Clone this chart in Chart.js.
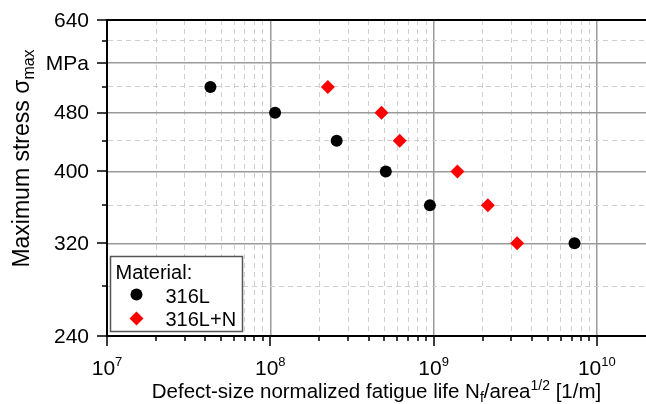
<!DOCTYPE html>
<html>
<head>
<meta charset="utf-8">
<script src="https://cdn.jsdelivr.net/npm/chart.js@4.4.0/dist/chart.umd.min.js"></script>
<style>
  html, body { margin: 0; padding: 0; background: #fff; overflow: hidden; }
  #wrap { position: relative; width: 646px; height: 404px; }
  #fatigueChart { display: block; }
</style>
</head>
<body>
<div id="wrap"><canvas id="fatigueChart"></canvas></div>
<script>
// Stress amplitude levels (MPa)
const stressLevels = [520, 480, 440, 400, 360, 320];
// Defect-size normalized fatigue life N_f / area^1/2 [1/m]
const life316L = [4.3e7, 1.07e8, 2.55e8, 5.1e8, 9.5e8, 7.3e9];
const life316LN = [2.25e8, 4.8e8, 6.2e8, 1.4e9, 2.15e9, 3.25e9];

const seriesNames = ["316L", "316L+N"];
const legendTitle = "Material:";

// Axis ranges and ticks
const xLimits = [1e7, 2e10];
const yLimits = [240, 640];
const xDecades = [1e7, 1e8, 1e9, 1e10];
const xDecadeExps = ["7", "8", "9", "10"];
const yMajorTicks = [240, 320, 400, 480, 560, 640];
const yMinorTicks = [280, 360, 440, 520, 600];
const yTickLabels = ["240", "320", "400", "480", "MPa", "640"];

const FONT = "'Liberation Sans', Arial, Helvetica, sans-serif";

// minor log ticks 2..9 inside each decade, below the axis max
function xMinorTicks() {
    const out = [];
    xDecades.forEach(function (d) {
        for (let k = 2; k <= 9; k++) {
            if (d * k < xLimits[1]) out.push(d * k);
        }
    });
    return out;
}

function toPoints(xs, ys) {
    return xs.map((x, i) => ({ x: x, y: ys[i] }));
}

// draws a run of [text, fontSize, baselineShift] pieces starting at x
function drawRuns(ctx, runs, x, y) {
    runs.forEach(function (r) {
        ctx.font = r[1] + "px " + FONT;
        ctx.fillText(r[0], x, y + r[2]);
        x += ctx.measureText(r[0]).width;
    });
}

function runsWidth(ctx, runs) {
    let w = 0;
    runs.forEach(function (r) {
        ctx.font = r[1] + "px " + FONT;
        w += ctx.measureText(r[0]).width;
    });
    return w;
}

// Frame, tick marks, tick labels, axis titles and the legend box
const decorPlugin = {
    id: "decor",
    afterDatasetsDraw(chart) {
        const ctx = chart.ctx;
        const area = chart.chartArea;
        const bx = area.left + 3.5, by = area.bottom - 79.5;
        const bw = 132, bh = 75;

        ctx.save();
        ctx.fillStyle = "#fff";
        ctx.fillRect(bx, by, bw, bh);
        ctx.strokeStyle = "#555";
        ctx.lineWidth = 1.5;
        ctx.strokeRect(bx, by, bw, bh);

        ctx.fillStyle = "#000";
        ctx.textAlign = "left";
        ctx.textBaseline = "alphabetic";
        ctx.font = "20px " + FONT;
        ctx.fillText(legendTitle, bx + 5, by + 22);
        ctx.fillText(seriesNames[0], bx + 55, by + 46);
        ctx.fillText(seriesNames[1], bx + 55, by + 69);

        // circle marker
        ctx.beginPath();
        ctx.arc(bx + 26, by + 38, 6, 0, Math.PI * 2);
        ctx.fillStyle = "#000";
        ctx.fill();
        // diamond marker
        const dx = bx + 26, dy = by + 62, r = 7;
        ctx.beginPath();
        ctx.moveTo(dx - r, dy);
        ctx.lineTo(dx, dy - r);
        ctx.lineTo(dx + r, dy);
        ctx.lineTo(dx, dy + r);
        ctx.closePath();
        ctx.fillStyle = "#ff0000";
        ctx.fill();
        ctx.restore();
    },
    afterDraw(chart) {
        const ctx = chart.ctx;
        const area = chart.chartArea;
        const xs = chart.scales.x, ys = chart.scales.y;

        ctx.save();
        ctx.strokeStyle = "#000";

        // top frame line
        ctx.lineWidth = 2;
        ctx.beginPath();
        ctx.moveTo(area.left, area.top);
        ctx.lineTo(area.right, area.top);
        ctx.stroke();

        // tick marks
        ctx.lineWidth = 1.5;
        ctx.beginPath();
        yMajorTicks.forEach(function (v) {
            const p = Math.round(ys.getPixelForValue(v));
            ctx.moveTo(area.left - 10, p);
            ctx.lineTo(area.left, p);
        });
        yMinorTicks.forEach(function (v) {
            const p = Math.round(ys.getPixelForValue(v));
            ctx.moveTo(area.left - 5, p);
            ctx.lineTo(area.left, p);
        });
        xDecades.forEach(function (v) {
            const p = Math.round(xs.getPixelForValue(v));
            ctx.moveTo(p, area.bottom);
            ctx.lineTo(p, area.bottom + 10);
        });
        xMinorTicks().forEach(function (v) {
            const p = Math.round(xs.getPixelForValue(v));
            ctx.moveTo(p, area.bottom);
            ctx.lineTo(p, area.bottom + 5);
        });
        ctx.stroke();

        ctx.fillStyle = "#000";

        // y tick labels
        ctx.font = "21px " + FONT;
        ctx.textAlign = "right";
        ctx.textBaseline = "middle";
        yMajorTicks.forEach(function (v, i) {
            ctx.fillText(yTickLabels[i], area.left - 18, ys.getPixelForValue(v) + 1);
        });

        // x tick labels, 10 with a raised exponent
        ctx.textAlign = "left";
        ctx.textBaseline = "alphabetic";
        xDecades.forEach(function (v, i) {
            const runs = [["10", 21, 0], [xDecadeExps[i], 13, -9]];
            const w = runsWidth(ctx, runs);
            drawRuns(ctx, runs, xs.getPixelForValue(v) - w / 2, area.bottom + 39);
        });

        // x axis title
        const xRuns = [
            ["Defect-size normalized fatigue life N", 20.5, 0],
            ["f", 14, 4],
            ["/area", 20.5, 0],
            ["1/2", 14, -8],
            [" [1/m]", 20.5, 0]
        ];
        const xw = runsWidth(ctx, xRuns);
        drawRuns(ctx, xRuns, (area.left + area.right) / 2 - xw / 2, area.bottom + 62);

        // y axis title, rotated
        const yRuns = [["Maximum stress \u03c3", 23, 0], ["max", 16, 5]];
        const yw = runsWidth(ctx, yRuns);
        ctx.translate(29, 158.5);
        ctx.rotate(-Math.PI / 2);
        drawRuns(ctx, yRuns, -yw / 2, 0);
        ctx.restore();
    }
};

function isMajorY(v) {
    return yMajorTicks.indexOf(v) !== -1;
}

document.addEventListener("DOMContentLoaded", function () {
    const canvas = document.getElementById("fatigueChart");
    if (!canvas) {
        console.error("canvas not found");
        return;
    }

    new Chart(canvas.getContext("2d"), {
        type: "scatter",
        data: {
            datasets: [
                {
                    label: seriesNames[0],
                    data: toPoints(life316L, stressLevels),
                    pointStyle: "circle",
                    pointRadius: 6,
                    pointBorderWidth: 0,
                    backgroundColor: "#000",
                    borderColor: "#000"
                },
                {
                    label: seriesNames[1],
                    data: toPoints(life316LN, stressLevels),
                    pointStyle: "rectRot",
                    pointRadius: 7,
                    pointBorderWidth: 0,
                    backgroundColor: "#ff0000",
                    borderColor: "#ff0000"
                }
            ]
        },
        options: {
            responsive: true,
            maintainAspectRatio: false,
            animation: false,
            layout: {
                autoPadding: false,
                padding: { left: 107, top: 20, right: 0, bottom: 68 }
            },
            plugins: {
                legend: { display: false },
                tooltip: { enabled: false }
            },
            scales: {
                x: {
                    type: "logarithmic",
                    min: xLimits[0],
                    max: xLimits[1],
                    bounds: "data",
                    afterBuildTicks: function (scale) {
                        const ticks = xDecades.map(v => ({ value: v, major: true }));
                        xMinorTicks().forEach(v => ticks.push({ value: v, major: false }));
                        scale.ticks = ticks;
                    },
                    ticks: { display: false },
                    grid: {
                        drawTicks: false,
                        color: c => (c.tick && c.tick.major ? "#9a9a9a" : "#cfcfcf"),
                        lineWidth: c => (c.tick && c.tick.major ? 1.5 : 1)
                    },
                    border: {
                        color: "#000",
                        width: 2,
                        dash: c => (c.tick && !c.tick.major ? [5, 4] : [])
                    }
                },
                y: {
                    type: "logarithmic",
                    min: yLimits[0],
                    max: yLimits[1],
                    bounds: "data",
                    afterBuildTicks: function (scale) {
                        scale.ticks = yMajorTicks.concat(yMinorTicks).map(v => ({ value: v, major: isMajorY(v) }));
                    },
                    ticks: { display: false },
                    grid: {
                        drawTicks: false,
                        color: c => (c.tick && c.tick.major ? "#9a9a9a" : "#cfcfcf"),
                        lineWidth: c => (c.tick && c.tick.major ? 1.5 : 1)
                    },
                    border: {
                        color: "#000",
                        width: 2,
                        dash: c => (c.tick && !c.tick.major ? [5, 4] : [])
                    }
                }
            }
        },
        plugins: [decorPlugin]
    });
});
</script>
</body>
</html>
